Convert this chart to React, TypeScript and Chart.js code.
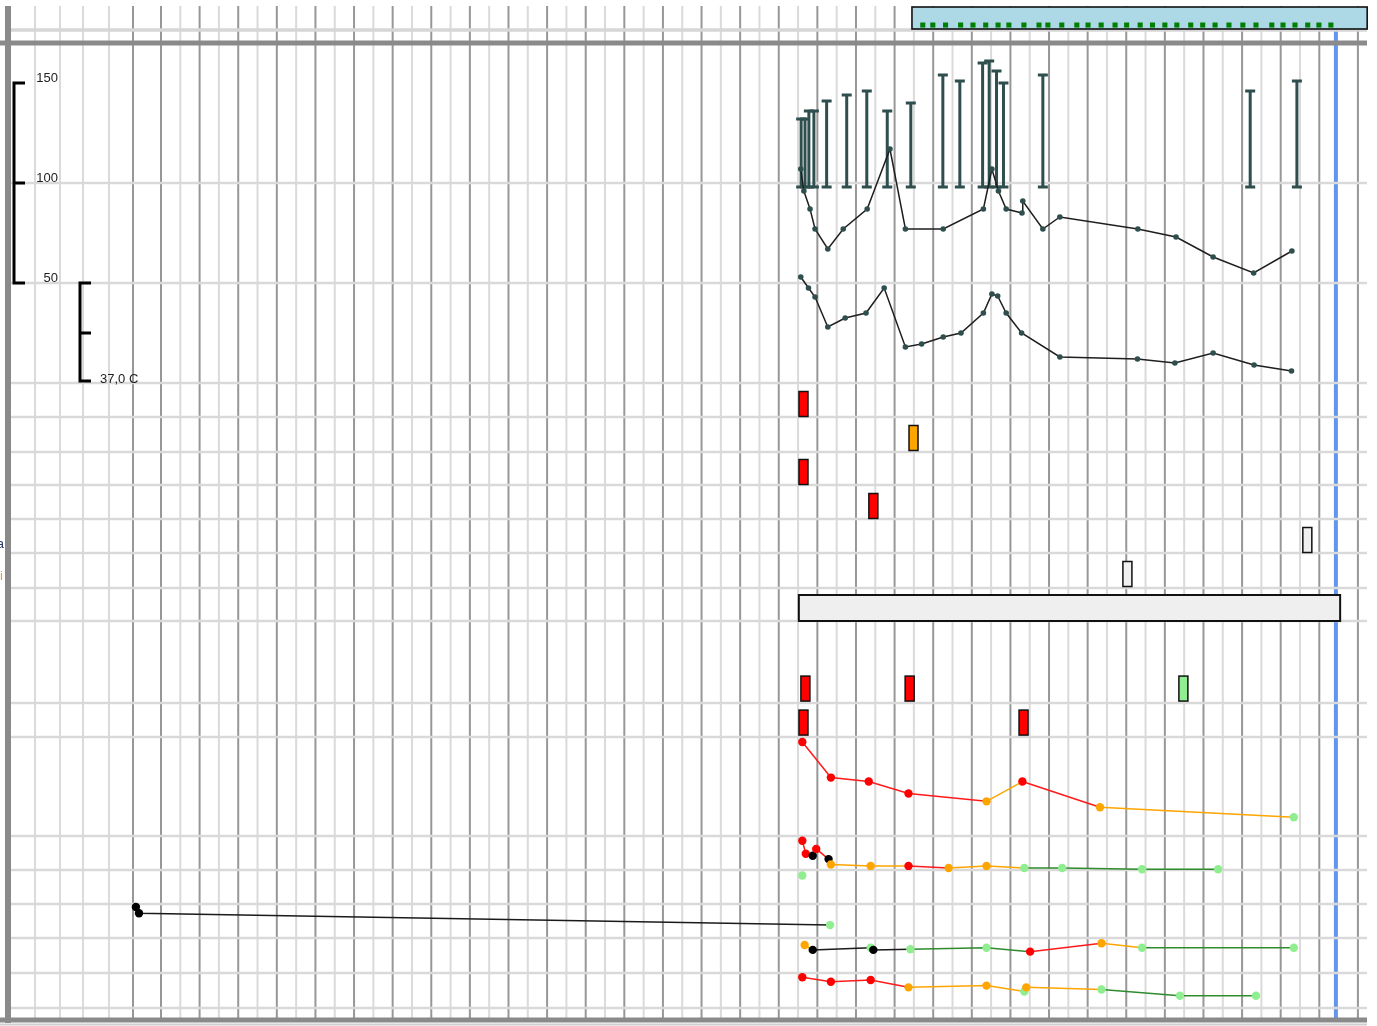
import React, { useEffect, useRef } from 'react';
import { Chart, registerables } from 'chart.js';

Chart.register(...registerables);

const W = 1377;
const H = 1026;

// ---------------- data (time in hours) ----------------
const nowHour = 30.43;

const stripStart = 19.45;
const stripEnd = 31.24;
const stripTicks = [19.73, 19.99, 20.32, 20.71, 21.03, 21.36, 21.68, 21.96, 22.35, 22.74, 22.97, 23.33, 23.72, 24.01, 24.35, 24.71, 25.01, 25.36, 25.68, 26.0, 26.31, 26.67, 26.98, 27.3, 27.66, 28.02, 28.36, 28.77, 29.06, 29.37, 29.7, 29.99, 30.3];

const hrAxisTicks = [150, 100, 50];
const tempAxisTicks = [38, 37.5, 37];
const tempAxisLabel = '37,0 C';

const bpTimes = [16.58, 16.68, 16.78, 16.91, 17.24, 17.76, 18.28, 18.81, 19.42, 20.25, 20.69, 21.28, 21.45, 21.64, 21.82, 22.84, 28.21, 29.42];
const bpHigh = [132, 132, 136, 136, 141, 144, 146, 136, 140, 154, 151, 160, 161, 156, 150, 154, 146, 151];
const bpLow = [98, 98, 98, 98, 98, 98, 98, 98, 98, 98, 98, 98, 98, 98, 98, 98, 98, 98];

const hrTimes = [16.57, 16.65, 16.81, 16.94, 17.27, 17.67, 18.29, 18.88, 19.28, 20.26, 21.3, 21.52, 21.69, 21.89, 22.3, 22.32, 22.84, 23.28, 25.3, 26.29, 27.25, 28.3, 29.29];
const hrValues = [107, 96, 87, 77, 67, 77, 87, 117, 77, 77, 87, 107, 96, 87, 85, 91, 77, 83, 77, 73, 63, 55, 66];

const tempTimes = [16.57, 16.77, 16.94, 17.27, 17.72, 18.26, 18.73, 19.28, 19.7, 20.26, 20.72, 21.3, 21.52, 21.67, 21.89, 22.29, 23.28, 25.29, 26.26, 27.25, 28.31, 29.28];
const tempValues = [38.06, 37.95, 37.86, 37.56, 37.65, 37.7, 37.95, 37.36, 37.39, 37.46, 37.5, 37.7, 37.89, 37.87, 37.7, 37.5, 37.26, 37.24, 37.2, 37.3, 37.18, 37.12];

// medication / order markers: H = red, M = orange, N = green, E = empty
const medTimes = [16.64, 19.49, 16.64, 18.45, 29.69, 25.03, 16.69, 19.39, 26.48, 16.64, 22.34];
const medRows = [0, 1, 2, 3, 4, 5, 8.37, 8.37, 8.37, 9.37, 9.37];
const medStatus = ['H', 'M', 'H', 'H', 'E', 'E', 'H', 'H', 'N', 'H', 'H'];
const infusionStart = 16.52;
const infusionEnd = 30.54;
const infusionRow = 6;

// lab rows: status H = high (red), M = borderline (orange), N = normal (green), X = black
const lab1Times = [16.61, 17.35, 18.33, 19.36, 21.38, 22.31, 24.32, 29.34];
const lab1Values = [95, 59, 55, 43, 35, 55, 29, 19];
const lab1Status = ['H', 'H', 'H', 'H', 'M', 'H', 'M', 'N'];

const lab2Times = [16.61, 16.7, 16.88, 16.97, 17.29, 17.35, 18.38, 19.36, 20.4, 21.38, 22.36, 23.34, 25.41, 27.38];
const lab2Values = [93, 74, 71, 81, 66, 58, 56, 56, 53, 56, 53, 53, 51, 51];
const lab2Status = ['H', 'H', 'X', 'H', 'X', 'M', 'M', 'H', 'M', 'M', 'N', 'N', 'N', 'N'];
const lab2ExtraTimes = [16.61];
const lab2ExtraValues = [42];
const lab2ExtraStatus = ['N'];

const lab3Times = [-0.65, -0.57, 17.33];
const lab3Values = [91, 73, 38];
const lab3Status = ['X', 'X', 'N'];

const lab4Times = [16.67, 16.88, 18.38, 18.45, 19.41, 21.38, 22.51, 24.36, 25.41, 29.34];
const lab4Values = [80, 66, 72, 66, 68, 72, 61, 85, 72, 72];
const lab4Status = ['M', 'X', 'N', 'X', 'N', 'N', 'H', 'M', 'N', 'N'];

const lab5Times = [16.61, 17.35, 18.38, 19.36, 21.38, 22.36, 22.41, 24.36, 26.39, 28.36];
const lab5Values = [88, 75, 80, 59, 64, 47, 59, 53, 35, 35];
const lab5Status = ['H', 'H', 'H', 'M', 'M', 'N', 'M', 'N', 'N', 'N'];

// ---------------- layout ----------------
const X0_PX = 161;
const PX_PER_HOUR = 38.61;
const majorHours = [-0.725, ...Array.from({ length: 32 }, (_, i) => i)];
const minorHours = [-3.263, -2.616, -2.02, -1.347, ...Array.from({ length: 30 }, (_, i) => i + 0.5)];
const rowLinesPx = [183, 283, 383, 417, 452, 485, 519, 553, 588, 621, 703, 737, 836, 870, 904, 938, 973, 1008];
const RIGHT_PX = 1367;

const POINT_COLOR: Record<string, string> = { H: '#ff0000', M: '#ffa500', N: '#90ee90', X: '#000000' };
const LINE_COLOR: Record<string, string> = { H: '#ff1a1a', M: '#ffa500', N: '#2e8b2e', X: '#1a1a1a' };
const BOX_COLOR: Record<string, string> = { H: '#ff0000', M: '#ffa500', N: '#90ee90', E: '#f0f0f0' };
const SLATE = '#2f4f4f';

function fit(v1: number, p1: number, v2: number, p2: number) {
  const k = (v2 - v1) / (p2 - p1);
  const top = v1 - p1 * k;
  const bottom = v1 + (H - p1) * k;
  return top > bottom
    ? { min: bottom, max: top, reverse: false }
    : { min: top, max: bottom, reverse: true };
}

const pts = (t: number[], v: number[]) => t.map((x, i) => ({ x, y: v[i] }));

function labDataset(t: number[], v: number[], s: string[], axis: string, showLine = true) {
  return {
    type: 'line' as const,
    data: pts(t, v),
    yAxisID: axis,
    showLine,
    borderColor: LINE_COLOR.N,
    borderWidth: 1.5,
    pointRadius: 4.2,
    pointBorderWidth: 0,
    pointBackgroundColor: s.map((k) => POINT_COLOR[k]),
    segment: { borderColor: (c: any) => LINE_COLOR[s[c.p0DataIndex]] },
    tension: 0,
  };
}

const decorPlugin = {
  id: 'decor',
  beforeDraw(chart: any) {
    const ctx = chart.ctx;
    ctx.save();
    ctx.fillStyle = '#ffffff';
    ctx.fillRect(0, 0, W, H);
    ctx.restore();
  },
  beforeDatasetsDraw(chart: any) {
    const ctx: CanvasRenderingContext2D = chart.ctx;
    const x = chart.scales.x;
    const yTop = chart.scales.yTop;
    const yMed = chart.scales.yMed;
    const yHR = chart.scales.yHR;
    const yTemp = chart.scales.yTemp;
    ctx.save();
    const vline = (px: number, color: string, w: number, y0: number, y1: number) => {
      ctx.strokeStyle = color;
      ctx.lineWidth = w;
      ctx.beginPath();
      ctx.moveTo(px, y0);
      ctx.lineTo(px, y1);
      ctx.stroke();
    };
    const hline = (py: number, color: string, w: number, x0: number, x1: number) => {
      ctx.strokeStyle = color;
      ctx.lineWidth = w;
      ctx.beginPath();
      ctx.moveTo(x0, py);
      ctx.lineTo(x1, py);
      ctx.stroke();
    };
    // vertical grid
    minorHours.forEach((h) => vline(x.getPixelForValue(h), '#dadada', 2, 6, 1018));
    majorHours.forEach((h) => vline(x.getPixelForValue(h), '#979797', 2, 6, 1018));
    // now marker
    vline(x.getPixelForValue(nowHour), '#6495ed', 4, 29, 1018);
    // horizontal grid
    hline(30, '#d6d6d6', 3.5, 11, RIGHT_PX);
    rowLinesPx.forEach((py) => hline(py, '#d9d9d9', 2.5, 11, RIGHT_PX));
    // borders
    hline(43, '#8a8a8a', 5, 0, RIGHT_PX);
    hline(1020, '#8a8a8a', 5, 0, RIGHT_PX);
    hline(1024.5, '#cfcfcf', 2, 0, RIGHT_PX);
    vline(8, '#8a8a8a', 6, 6, 1023);

    // top strip
    const sx0 = x.getPixelForValue(stripStart);
    const sx1 = x.getPixelForValue(stripEnd);
    const sy0 = yTop.getPixelForValue(1);
    const sy1 = yTop.getPixelForValue(0);
    ctx.fillStyle = '#add8e6';
    ctx.fillRect(sx0, sy0, sx1 - sx0, sy1 - sy0);
    ctx.strokeStyle = '#111';
    ctx.lineWidth = 1.6;
    ctx.strokeRect(sx0, sy0, sx1 - sx0, sy1 - sy0);

    // medication boxes
    const BW = 9;
    const BH = 25;
    medTimes.forEach((t, i) => {
      const cx = x.getPixelForValue(t);
      const cy = yMed.getPixelForValue(medRows[i]);
      ctx.fillStyle = BOX_COLOR[medStatus[i]];
      ctx.fillRect(cx - BW / 2, cy - BH / 2, BW, BH);
      ctx.strokeStyle = '#111';
      ctx.lineWidth = 1.5;
      ctx.strokeRect(cx - BW / 2, cy - BH / 2, BW, BH);
    });
    // infusion bar
    const ix0 = x.getPixelForValue(infusionStart);
    const ix1 = x.getPixelForValue(infusionEnd);
    const icy = yMed.getPixelForValue(infusionRow);
    ctx.fillStyle = '#efefef';
    ctx.fillRect(ix0, icy - 13, ix1 - ix0, 26);
    ctx.strokeStyle = '#111';
    ctx.lineWidth = 2;
    ctx.strokeRect(ix0, icy - 13, ix1 - ix0, 26);

    // blood pressure bars
    ctx.strokeStyle = SLATE;
    ctx.lineWidth = 3;
    bpTimes.forEach((t, i) => {
      const px = x.getPixelForValue(t);
      const t1 = yHR.getPixelForValue(bpHigh[i]);
      const b1 = yHR.getPixelForValue(bpLow[i]);
      ctx.beginPath();
      ctx.moveTo(px, t1);
      ctx.lineTo(px, b1);
      ctx.moveTo(px - 5, t1);
      ctx.lineTo(px + 5, t1);
      ctx.moveTo(px - 5, b1);
      ctx.lineTo(px + 5, b1);
      ctx.stroke();
    });

    // axis brackets
    ctx.strokeStyle = '#000';
    ctx.lineWidth = 3;
    const hTop = yHR.getPixelForValue(hrAxisTicks[0]);
    const hBot = yHR.getPixelForValue(hrAxisTicks[hrAxisTicks.length - 1]);
    ctx.beginPath();
    ctx.moveTo(25, hTop);
    ctx.lineTo(14, hTop);
    ctx.lineTo(14, hBot);
    ctx.lineTo(25, hBot);
    hrAxisTicks.forEach((v) => {
      const py = yHR.getPixelForValue(v);
      ctx.moveTo(14, py);
      ctx.lineTo(25, py);
    });
    ctx.stroke();
    const tTop = yTemp.getPixelForValue(tempAxisTicks[0]);
    const tBot = yTemp.getPixelForValue(tempAxisTicks[tempAxisTicks.length - 1]) - 2;
    ctx.beginPath();
    ctx.moveTo(91, tTop);
    ctx.lineTo(80, tTop);
    ctx.lineTo(80, tBot);
    ctx.lineTo(91, tBot);
    const tMid = yTemp.getPixelForValue(tempAxisTicks[1]);
    ctx.moveTo(80, tMid);
    ctx.lineTo(91, tMid);
    ctx.stroke();

    ctx.fillStyle = '#222';
    ctx.font = '13px "Liberation Sans", Arial, sans-serif';
    ctx.textBaseline = 'middle';
    ctx.textAlign = 'right';
    hrAxisTicks.forEach((v) => {
      ctx.fillText(String(v), 58, yHR.getPixelForValue(v) - 5);
    });
    ctx.textAlign = 'left';
    ctx.fillText(tempAxisLabel, 100, tBot - 2);

    // clipped row labels at the far left
    ctx.textAlign = 'right';
    ctx.fillStyle = '#2a3a6a';
    ctx.fillText('a', 4, 544);
    ctx.fillStyle = '#e8a020';
    ctx.fillText('i', 3, 576);
    ctx.restore();
  },
};

export default function App() {
  const ref = useRef<HTMLCanvasElement>(null);

  useEffect(() => {
    if (!ref.current) return;
    const lin = (r: { min: number; max: number; reverse: boolean }) => ({ type: 'linear' as const, display: false, ...r });
    const chart = new Chart(ref.current, {
      type: 'line',
      data: {
        datasets: [
          {
            type: 'line',
            data: stripTicks.map((t) => ({ x: t, y: 0.18 })),
            yAxisID: 'yTop',
            showLine: false,
            pointStyle: 'rect',
            pointRadius: 3.6,
            pointBorderWidth: 0,
            pointBackgroundColor: '#008000',
          },
          {
            type: 'line',
            data: pts(hrTimes, hrValues),
            yAxisID: 'yHR',
            borderColor: '#1e1e1e',
            borderWidth: 1.5,
            pointRadius: 2.8,
            pointBorderWidth: 0,
            pointBackgroundColor: SLATE,
            tension: 0,
          },
          {
            type: 'line',
            data: pts(tempTimes, tempValues),
            yAxisID: 'yTemp',
            borderColor: '#1e1e1e',
            borderWidth: 1.5,
            pointRadius: 2.8,
            pointBorderWidth: 0,
            pointBackgroundColor: SLATE,
            tension: 0,
          },
          labDataset(lab1Times, lab1Values, lab1Status, 'yLab1'),
          labDataset(lab2Times, lab2Values, lab2Status, 'yLab2'),
          labDataset(lab2ExtraTimes, lab2ExtraValues, lab2ExtraStatus, 'yLab2', false),
          labDataset(lab3Times, lab3Values, lab3Status, 'yLab3'),
          labDataset(lab4Times, lab4Values, lab4Status, 'yLab4'),
          labDataset(lab5Times, lab5Values, lab5Status, 'yLab5'),
        ] as any,
      },
      options: {
        animation: false,
        responsive: false,
        events: [],
        layout: { padding: 0, autoPadding: false },
        plugins: { legend: { display: false }, tooltip: { enabled: false } },
        scales: {
          x: {
            type: 'linear',
            display: false,
            min: (0 - X0_PX) / PX_PER_HOUR,
            max: (W - X0_PX) / PX_PER_HOUR,
          },
          yTop: lin(fit(1, 7, 0, 29)),
          yHR: lin(fit(150, 83, 50, 283)),
          yTemp: lin(fit(38, 283, 37, 383)),
          yMed: lin(fit(0, 404, 1, 438)),
          yLab1: lin(fit(100, 737, 0, 836)),
          yLab2: lin(fit(100, 836, 0, 904)),
          yLab3: lin(fit(100, 904, 0, 938)),
          yLab4: lin(fit(100, 938, 0, 973)),
          yLab5: lin(fit(100, 973, 0, 1008)),
        } as any,
      },
      plugins: [decorPlugin],
    });
    return () => chart.destroy();
  }, []);

  return (
    <div style={{ position: 'absolute', left: 0, top: 0, width: W, height: H }}>
      <canvas ref={ref} width={W} height={H} style={{ display: 'block', width: W, height: H }} />
    </div>
  );
}
